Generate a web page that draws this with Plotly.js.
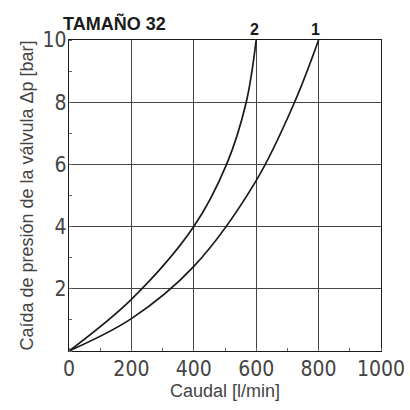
<!DOCTYPE html>
<html><head><meta charset="utf-8">
<script src="https://cdn.plot.ly/plotly-3.0.1.min.js"></script>
<style>html,body{margin:0;padding:0;background:#fff}#c{width:410px;height:410px}</style>
</head><body><div id="c"></div>
<script>
const curve1X = [0, 200, 400, 600, 723, 800];
const curve1Y = [0, 1.04, 2.72, 5.48, 8, 10];
const curve2X = [0, 200, 400, 505, 568, 600];
const curve2Y = [0, 1.66, 4, 6, 8, 10];
const curveNames = ['1', '2'];
const xTicks = [0, 200, 400, 600, 800, 1000];
const yTicks = [2, 4, 6, 8, 10];

const lineStyle = {color: '#1a1a1a', width: 1.7, shape: 'spline', smoothing: 1};
const data = [
  {x: curve1X, y: curve1Y, mode: 'lines', line: lineStyle, name: curveNames[0], hoverinfo: 'none'},
  {x: curve2X, y: curve2Y, mode: 'lines', line: lineStyle, name: curveNames[1], hoverinfo: 'none'}
];
const tickFont = {family: 'Liberation Sans Narrow, DejaVu Sans Condensed', size: 21, color: '#444'};
const labelFont = {family: 'Liberation Sans, Arial', size: 18, color: '#444'};
const layout = {
  width: 410, height: 410,
  margin: {l: 69, r: 29, t: 40, b: 59},
  paper_bgcolor: '#fff', plot_bgcolor: '#fff',
  showlegend: false,
  title: {text: '<b>TAMAÑO 32</b>', x: 63 / 410, xref: 'container', xanchor: 'left', y: 1, yref: 'paper', yanchor: 'bottom', pad: {b: 10},
    font: {family: 'Liberation Sans, Arial', size: 18, color: '#1a1a1a'}},
  xaxis: {range: [0, 1000], tickvals: xTicks, ticktext: xTicks.map(String), tickfont: tickFont,
    showgrid: true, gridcolor: '#444', gridwidth: 1, zeroline: false,
    showline: true, linecolor: '#1a1a1a', linewidth: 1.2, mirror: true, ticks: '', ticklabelstandoff: -1,
    minor: {dtick: 100, tick0: 0, ticks: 'inside', ticklen: 3, tickcolor: '#666', showgrid: false},
    title: {text: 'Caudal [l/min]', standoff: 2, font: labelFont}},
  yaxis: {range: [0, 10], tickvals: yTicks, ticktext: yTicks.map(String), tickfont: tickFont,
    showgrid: true, gridcolor: '#444', gridwidth: 1, zeroline: false,
    showline: true, linecolor: '#1a1a1a', linewidth: 1.2, mirror: true, ticks: '', ticklabelstandoff: -3,
    minor: {dtick: 1, tick0: 0, ticks: 'inside', ticklen: 3, tickcolor: '#666', showgrid: false},
    title: {text: 'Caída de presión de la válvula Δp [bar]', standoff: 4, font: labelFont}},
  annotations: [
    {x: 800, y: 10, xref: 'x', yref: 'y', text: '<b>' + curveNames[0] + '</b>', showarrow: false, yanchor: 'bottom', xshift: -3, yshift: 0,
      font: {family: 'Liberation Sans, Arial', size: 16, color: '#1a1a1a'}},
    {x: 600, y: 10, xref: 'x', yref: 'y', text: '<b>' + curveNames[1] + '</b>', showarrow: false, yanchor: 'bottom', xshift: -2, yshift: 0,
      font: {family: 'Liberation Sans, Arial', size: 16, color: '#1a1a1a'}}
  ]
};
Plotly.newPlot('c', data, layout, {staticPlot: true, displayModeBar: false});
</script></body></html>
